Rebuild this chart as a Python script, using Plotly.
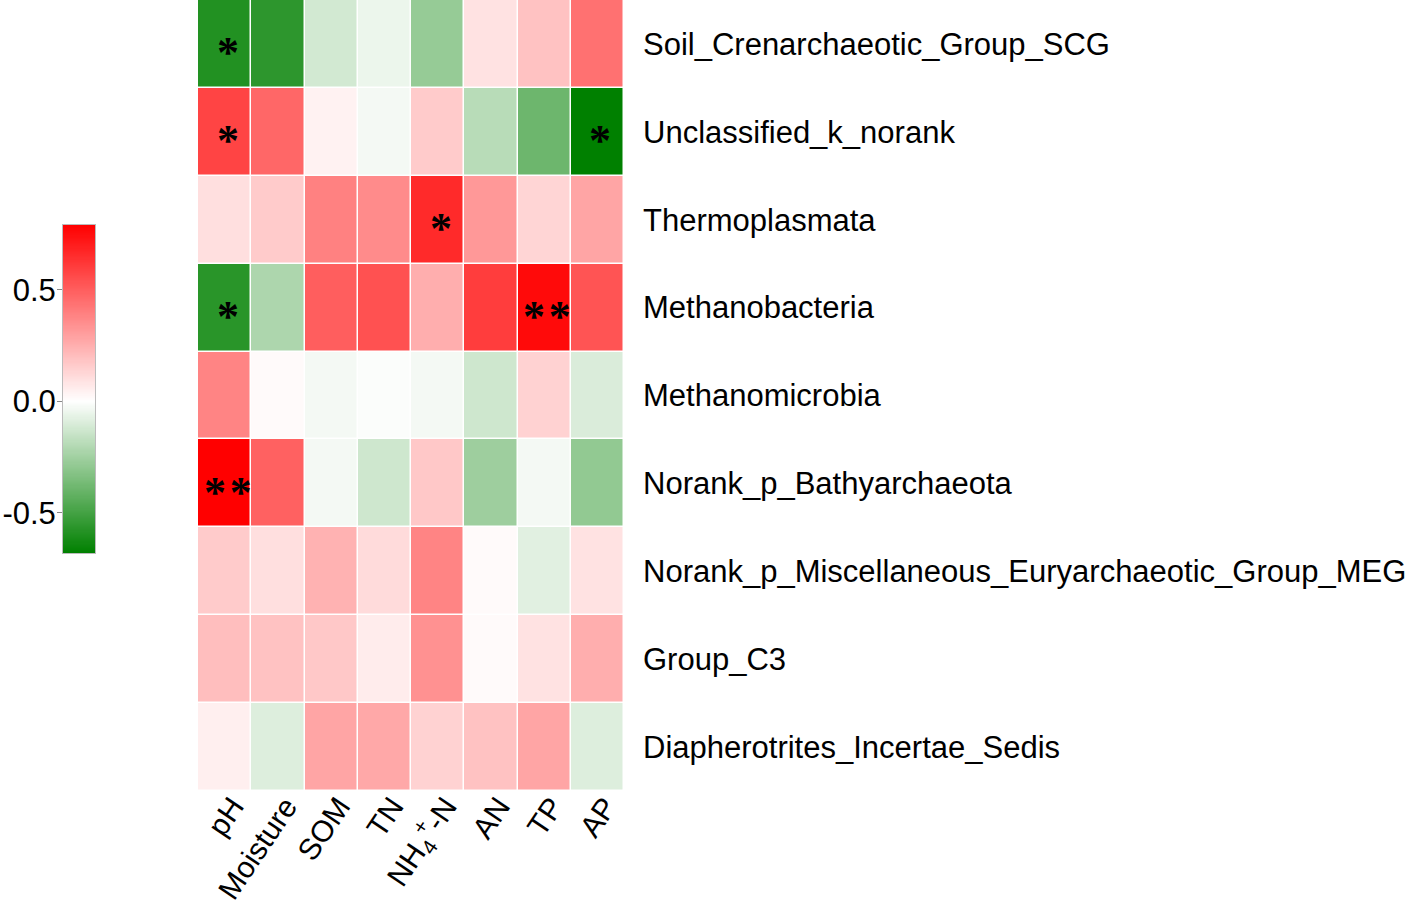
import numpy as np
import plotly.graph_objects as go

variables = ["pH", "Moisture", "SOM", "TN", "NH<sub>4</sub><sup>+</sup>-N", "AN", "TP", "AP"]
taxa = [
    "Soil_Crenarchaeotic_Group_SCG",
    "Unclassified_k_norank",
    "Thermoplasmata",
    "Methanobacteria",
    "Methanomicrobia",
    "Norank_p_Bathyarchaeota",
    "Norank_p_Miscellaneous_Euryarchaeotic_Group_MEG",
    "Group_C3",
    "Diapherotrites_Incertae_Sedis",
]
r_scg = [-0.59, -0.56, -0.12, -0.05, -0.28, 0.09, 0.19, 0.44]
r_unclassified = [0.58, 0.47, 0.04, -0.03, 0.16, -0.19, -0.39, -0.68]
r_thermoplasmata = [0.10, 0.16, 0.39, 0.36, 0.66, 0.32, 0.13, 0.28]
r_methanobacteria = [-0.57, -0.22, 0.50, 0.54, 0.25, 0.60, 0.76, 0.53]
r_methanomicrobia = [0.38, 0.015, -0.03, -0.01, -0.03, -0.13, 0.14, -0.10]
r_bathyarchaeota = [0.79, 0.49, -0.03, -0.13, 0.17, -0.26, -0.03, -0.29]
r_meg = [0.16, 0.10, 0.24, 0.11, 0.38, 0.015, -0.08, 0.09]
r_group_c3 = [0.20, 0.19, 0.17, 0.06, 0.34, 0.015, 0.09, 0.25]
r_diapherotrites = [0.05, -0.09, 0.28, 0.27, 0.14, 0.19, 0.28, -0.09]

sig_scg = ["*", "", "", "", "", "", "", ""]
sig_unclassified = ["*", "", "", "", "", "", "", "*"]
sig_thermoplasmata = ["", "", "", "", "*", "", "", ""]
sig_methanobacteria = ["*", "", "", "", "", "", "**", ""]
sig_methanomicrobia = [""] * 8
sig_bathyarchaeota = ["**", "", "", "", "", "", "", ""]
sig_meg = [""] * 8
sig_group_c3 = [""] * 8
sig_diapherotrites = [""] * 8

colorbar_ticks = [-0.5, 0.0, 0.5]
colorbar_ticktext = ["-0.5", "0.0", "0.5"]
zmin, zmax = -0.68, 0.79

z = [r_scg, r_unclassified, r_thermoplasmata, r_methanobacteria, r_methanomicrobia,
     r_bathyarchaeota, r_meg, r_group_c3, r_diapherotrites]
sig = [sig_scg, sig_unclassified, sig_thermoplasmata, sig_methanobacteria, sig_methanomicrobia,
       sig_bathyarchaeota, sig_meg, sig_group_c3, sig_diapherotrites]

mid = (0 - zmin) / (zmax - zmin)
cscale = [[0.0, "#008000"], [mid, "#FFFFFF"], [1.0, "#FF0000"]]

FONT = "Liberation Sans, Arial, sans-serif"
STAR_FONT = "Liberation Serif, Times New Roman, serif"
W, H = 1418, 911

fig = go.Figure()
fig.add_trace(go.Heatmap(
    z=z, x=variables, y=taxa, colorscale=cscale, zmin=zmin, zmax=zmax,
    xgap=1.5, ygap=1.5, showscale=False, xaxis="x", yaxis="y",
))

# colour key as its own small axis
grad = np.linspace(zmin, zmax, 300)
fig.add_trace(go.Heatmap(
    z=[[v] for v in grad], y=grad, x=[0], colorscale=cscale, zmin=zmin, zmax=zmax,
    showscale=False, xaxis="x2", yaxis="y2", hoverinfo="skip",
))

annotations = []
for i, row in enumerate(sig):
    for j, s in enumerate(row):
        if s:
            annotations.append(dict(
                x=variables[j], y=taxa[i], xref="x", yref="y",
                text="<b>" + "\u200a".join(s) + "</b>",
                showarrow=False, xshift=3,
                font=dict(family=STAR_FONT, size=44, color="black"), yshift=-9,
            ))

fig.update_layout(
    width=W, height=H,
    margin=dict(l=0, r=0, t=0, b=0),
    paper_bgcolor="white", plot_bgcolor="white",
    font=dict(family=FONT, color="black"),
    annotations=annotations,
    xaxis=dict(domain=[198 / W, 624 / W], tickangle=-56, showgrid=False, zeroline=False,
               ticks="", tickfont=dict(size=30, color="black"), ticklabelstandoff=-9,
               ticklabelshift=8, automargin=False),
    yaxis=dict(domain=[1 - 791 / H, 1.0], side="right", autorange="reversed", showgrid=False,
               zeroline=False, ticks="", tickfont=dict(size=31, color="black"),
               ticklabelstandoff=18, automargin=False),
    xaxis2=dict(domain=[63 / W, 95 / W], anchor="y2", showticklabels=False, showgrid=False,
                zeroline=False, ticks="", showline=True, linecolor="#BBBBBB", mirror=True,
                linewidth=1, automargin=False),
    yaxis2=dict(domain=[1 - 553 / H, 1 - 225 / H], anchor="x2", range=[zmin, zmax],
                side="left", tickvals=colorbar_ticks, ticktext=colorbar_ticktext,
                ticks="outside", ticklen=5, tickcolor="#888888", showgrid=False, zeroline=False,
                showline=True, linecolor="#BBBBBB", mirror=True, linewidth=1,
                tickfont=dict(size=31, color="black"), ticklabelstandoff=-5, automargin=False),
)

fig.write_html("out.html", config={"displayModeBar": False},
               post_script="document.body.style.margin='0px';")
